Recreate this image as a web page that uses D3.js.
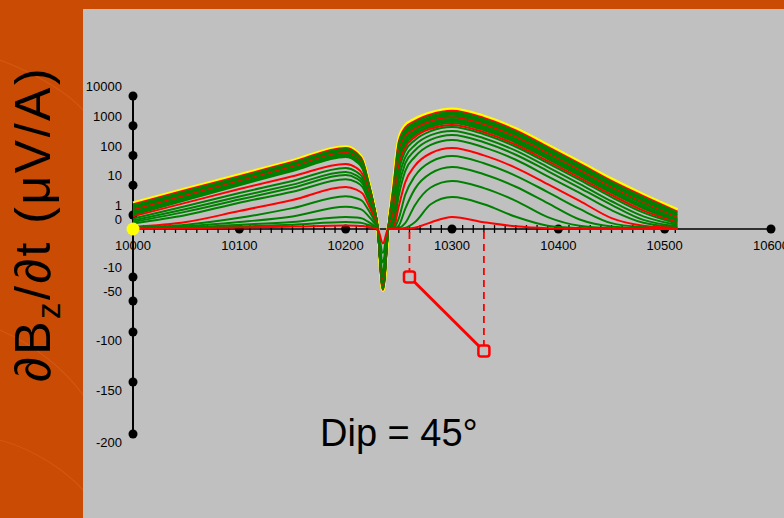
<!DOCTYPE html>
<html><head><meta charset="utf-8">
<script src="https://cdn.jsdelivr.net/npm/d3@7/dist/d3.min.js"></script>
<style>body{margin:0;background:#CA4B04;}svg{display:block;font-family:"Liberation Sans",Arial,sans-serif;}</style>
</head><body>
<svg id="c" width="784" height="518"></svg>
<script>
// Station positions (x) at which every channel is sampled
const stations = [10000,10050,10100,10150,10200,10210,10216,10221,10226,10230,10235,10240,10245,10250,10256,10265,10280,10300,10330,10360,10390,10420,10450,10480,10512];

// dBz/dt (uV/A) per time channel, early (ch21) to late (ch00)
const ch21 = [2.5,7.5,22,66,194, 133,70.6,15.4,2.6,0.18, -32,0, 12,350,1000,1650,2700,3600,2050,780,220,60,16,4.8,1.5];
const ch20 = [2.29,6.9,20.2,61,180, 123,65.8,14.7,2.5,0.17, -31.5,0, 9.6,288,864,1440,2400,3200,1824,694,195,53,14,4.3,1.3];
const ch19 = [2.09,6.3,18.7,56,166, 114,61,13.9,2.45,0.16, -31,0, 8.1,245,749,1267,2146,2880,1642,625,176,48,12.7,3.8,1.2];
const ch18 = [1.91,5.8,17.3,52,154, 106,57,13.3,2.4,0.16, -30,0, 6.7,207,648,1114,1917,2590,1476,562,158,43,11.4,3.4,1.1];
const ch17 = [1.74,5.3,16,48,142, 98,53,12.6,2.35,0.16, -29,0, 5.6,175,559,979,1724,2330,1328,506,142,39,10.3,3.1,0.98];
const ch16 = [1.58,4.9,14.8,44.5,132, 91,50,12,2.3,0.15, -28,0, 4.6,147,483,861,1554,2100,1197,456,128,35,9.2,2.8,0.88];
const ch15 = [1.45,4.5,13.7,41,122, 84,46.5,11.4,2.25,0.15, -27,0, 3.8,123,416,775,1389,1890,1077,410,115,31.6,8.3,2.5,0.79];
const ch14 = [1.32,4.1,12.6,38,113, 78,43.5,10.8,2.2,0.15, -26,0, 3.1,102,357,680,1250,1700,969,369,104,28.4,7.5,2.3,0.71];
const ch13 = [1.2,3.8,11.7,35,104, 72,40.5,10.2,2.15,0.14, -25,0, 2.4,84,306,612,1117,1530,872,332,93,25.6,6.7,2.0,0.64];
const ch12 = [1.1,3.5,10.8,32.5,96, 66.5,37.5,9.7,2.1,0.14, -24,0, 1.9,69,262,538,1007,1380,787,299,84,23,6.1,1.8,0.58];
const ch11 = [1.0,3.2,10,30,89, 62,35,9.2,2.05,0.14, -23,0, 1.5,56,223,484,905,1240,707,269,76,20.7,5.5,1.65,0.52];
const ch10 = [0.9,2.6,7.5,20,52, 38.6,23.3,7.0,1.7,0.14, -22,0, 1.1,40,180,413,795,1060,604,230,65,17.7,4.7,1.4,0.45];
const ch09 = [0.75,2.0,5.5,14,38, 28.5,17.8,5.75,1.53,0.13, -21,0, 0.8,27,137,328,664,910,519,197,55.5,15.2,4.0,1.2,0.38];
const ch08 = [0.6,1.6,4.2,10.5,28, 21.6,13.9,4.8,1.39,0.12, -19,0, 0.54,16,87,221,482,670,382,145,41,11.2,2.9,0.9,0.28];
const ch07 = [0.5,1.3,3.3,8.2,22, 17.1,11.3,4.1,1.28,0.11, -17,0, 0.34,8.8,54,147,343,490,279,106,30,8.2,2.2,0.65,0.2];
const ch06 = [0.4,1.0,2.6,6.0,16, 12.7,8.6,3.4,1.16,0.1, -15,0, 0.2,4.6,30,89,228,330,188,72,20,5.5,1.45,0.44,0.14];
const ch05 = [0.15,0.5,1.36,3.2,8.7, 7.1,5.2,2.36,0.96,0.09, -13,0, 0.09,2.0,12.5,44.5,119,178,101,38.6,10.9,3.0,0.78,0.24,0.075];
const ch04 = [0.1,0.3,0.8,1.7,4.3, 3.67,2.87,1.55,0.75,0.07, -11,0, 0.04,0.77,4.8,20,61,96,55,20.8,5.9,1.6,0.42,0.13,0.04];
const ch03 = [0.07,0.2,0.5,0.9,1.9, 1.72,1.44,0.96,0.51,0.05, -9,0, 0.01,0.25,1.6,7.4,25,41,23.4,8.9,2.5,0.68,0.18,0.055,0.017];
const ch02 = [0.05,0.12,0.3,0.5,0.86, 0.82,0.74,0.52,0.28,0.03, -7,0, 0,0.06,0.42,2.1,8.4,14,8.0,3.0,0.85,0.23,0.06,0.02,0.006];
const ch01 = [0.03,0.08,0.18,0.3,0.5, 0.47,0.42,0.3,0.16,0.02, -5,0, 0,0.01,0.08,0.48,2.3,4,2.3,0.87,0.24,0.07,0.02,0.005,0];
const ch00 = [0.02,0.05,0.1,0.17,0.25, 0.24,0.21,0.15,0.08,0.01, -3,0, 0,0,0.02,0.09,0.47,0.86,0.49,0.19,0.05,0.01,0,0,0];

// drawn first to last (earliest channel underneath)
const channels = [ch21,ch20,ch19,ch18,ch17,ch16,ch15,ch14,ch13,ch12,ch11,ch10,ch09,ch08,ch07,ch06,ch05,ch04,ch03,ch02,ch01,ch00];
const channelIds = [21,20,19,18,17,16,15,14,13,12,11,10,9,8,7,6,5,4,3,2,1,0];

// axes
const yTickValues = [10000,1000,100,10,1,0,-10,-50,-100,-150,-200];
const yTickLabels = ["10000","1000","100","10","1","0","-10","-50","-100","-150","-200"];
const xLabelValues = [10000,10100,10200,10300,10400,10500,10600];
const xLabelTexts = ["10000","10100","10200","10300","10400","10500","10600"];

// dip construction (station, value)
const dipStations = [10260, 10330];
const dipValues = [-10, -119];
const dipLabel = "Dip = 45\u00B0";

const svg = d3.select("#c");
const W = 784, H = 518;

const x = d3.scaleLinear().domain([10000,10600]).range([133,771]);
const yLog = d3.scaleLog().domain([1,10000]).range([215,96]);
const yLin = d3.scaleLinear().domain([0,1]).range([229,215]);
const yNeg = d3.scaleLinear().domain([-200,-150,-100,-50,-10,0]).range([434,382,332,301,277,229]);
const y = v => v >= 1 ? yLog(v) : (v >= 0 ? yLin(v) : yNeg(v));

// background
svg.append("rect").attr("width",W).attr("height",H).attr("fill","#CA4B04");
const sw = svg.append("g").attr("fill","none").attr("stroke","#E07030").attr("stroke-opacity",0.35).attr("stroke-width",1.2);
sw.append("path").attr("d","M0,60 C40,75 70,95 83,110");
sw.append("path").attr("d","M0,330 C35,345 65,370 83,395");
sw.append("path").attr("d","M0,440 C35,450 65,470 83,490");
svg.append("rect").attr("x",83).attr("y",9).attr("width",W-83).attr("height",H-9).attr("fill","#C0C0C0");

// y title
const t = svg.append("text").attr("transform","translate(50,224) rotate(-90)")
  .attr("text-anchor","middle").attr("font-size",50).attr("letter-spacing",2.5).attr("fill","#000");
t.append("tspan").text("\u2202B");
t.append("tspan").attr("font-size",33).attr("dy",10).text("z");
t.append("tspan").attr("dy",-10).text("/\u2202t (\u03BCV/A)");

// x axis line and minor ticks
const g = svg.append("g");
g.append("line").attr("x1",x(10000)).attr("x2",x(10600)).attr("y1",y(0)).attr("y2",y(0))
  .attr("stroke","#000").attr("stroke-width",1.5);
g.selectAll(".mt").data(d3.range(10000,10511,10)).join("line")
  .attr("x1",d=>x(d)).attr("x2",d=>x(d)).attr("y1",y(0)-4).attr("y2",y(0)+4)
  .attr("stroke","#000").attr("stroke-width",1.3);
g.selectAll(".xd").data(xLabelValues.slice(1)).join("circle")
  .attr("cx",d=>x(d)).attr("cy",y(0)).attr("r",4.5).attr("fill","#000");
g.selectAll(".xl").data(xLabelValues).join("text")
  .attr("x",d=>x(d)).attr("y",y(0)+21).attr("text-anchor","middle")
  .attr("font-size",13).attr("fill","#000").text((d,i)=>xLabelTexts[i]);

// y axis
g.append("line").attr("x1",x(10000)).attr("x2",x(10000)).attr("y1",y(10000)).attr("y2",y(-200))
  .attr("stroke","#000").attr("stroke-width",2);
g.selectAll(".yd").data(yTickValues).join("circle")
  .attr("cx",x(10000)).attr("cy",d=>y(d)).attr("r",4.5).attr("fill","#000");
g.selectAll(".yl").data(yTickValues).join("text")
  .attr("x",122).attr("y",d=>y(d) + (d > -60 ? -10 : 8) + 5).attr("text-anchor","end")
  .attr("font-size",13).attr("fill","#000").text((d,i)=>yTickLabels[i]);

// curves
const line = d3.line().x((d,i)=>x(stations[i])).y(d=>y(d)).curve(d3.curveMonotoneX);
const colorOf = id => id === 21 ? "#FFFF00" : (id % 5 === 0 ? "#FF0000" : "#008000");
svg.append("g").selectAll("path").data(channels).join("path")
  .attr("d",d=>line(d)).attr("fill","none")
  .attr("stroke",(d,i)=>colorOf(channelIds[i]))
  .attr("stroke-width",(d,i)=>channelIds[i]===21?3.5:2)
  .attr("stroke-linejoin","round");

// yellow origin marker
svg.append("circle").attr("cx",x(10000)).attr("cy",y(0)).attr("r",6.5).attr("fill","#FFFF00");

// dip construction
const a = svg.append("g").attr("stroke","#FF0000").attr("fill","none");
a.selectAll(".dl").data(dipStations).join("line")
  .attr("x1",d=>x(d)).attr("x2",d=>x(d)).attr("y1",y(0)+3).attr("y2",(d,i)=>y(dipValues[i])-5)
  .attr("stroke-width",1.8).attr("stroke-dasharray","7,5");
a.append("line").attr("x1",x(dipStations[0])).attr("y1",y(dipValues[0]))
  .attr("x2",x(dipStations[1])).attr("y2",y(dipValues[1])).attr("stroke-width",3);
a.selectAll(".sq").data(dipStations).join("rect")
  .attr("x",d=>x(d)-5.5).attr("y",(d,i)=>y(dipValues[i])-5.5).attr("width",11).attr("height",11)
  .attr("rx",2.5).attr("stroke-width",2.5).attr("fill","#C0C0C0");

svg.append("text").attr("x",320).attr("y",446).attr("font-size",38).attr("fill","#000").text(dipLabel);
</script>
</body></html>
